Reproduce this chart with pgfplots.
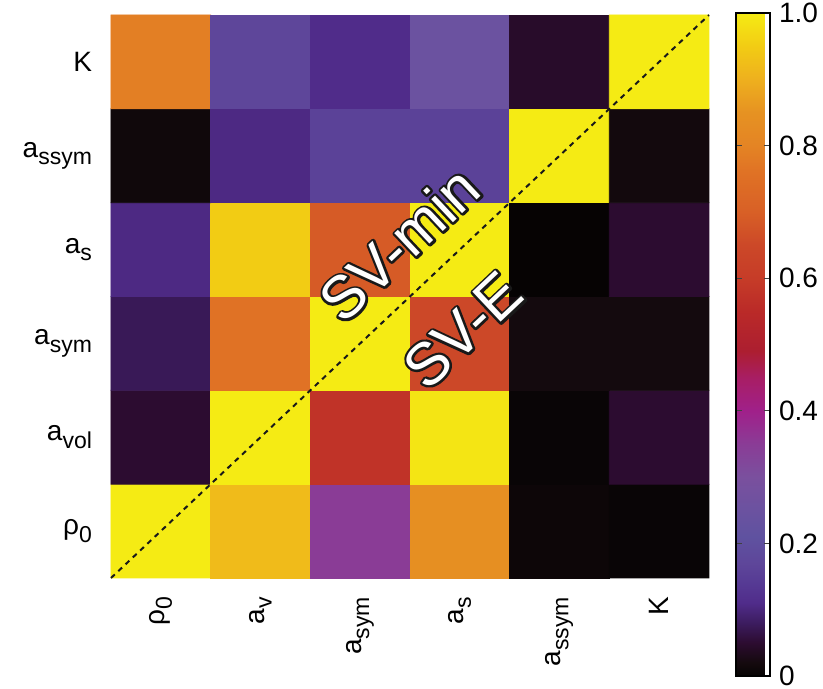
\documentclass[border=0pt]{standalone}
\usepackage{fontspec}
\setmainfont{Liberation Sans}
\usepackage{pgfplots}
\usepackage{pgfplotstable}
\pgfplotsset{compat=1.18}
\pgfplotsset{colormap={sv}{
  rgb255(0pt)=(6,3,3)
  rgb255(2pt)=(20,10,14)
  rgb255(5pt)=(44,12,48)
  rgb255(8pt)=(60,28,95)
  rgb255(11pt)=(80,44,138)
  rgb255(14pt)=(86,58,148)
  rgb255(17pt)=(94,70,154)
  rgb255(21pt)=(95,82,160)
  rgb255(25pt)=(107,82,160)
  rgb255(30pt)=(122,80,158)
  rgb255(35pt)=(138,60,150)
  rgb255(40pt)=(160,32,138)
  rgb255(45pt)=(168,30,100)
  rgb255(49pt)=(172,30,48)
  rgb255(55pt)=(186,42,40)
  rgb255(60pt)=(198,60,40)
  rgb255(65pt)=(204,72,40)
  rgb255(70pt)=(216,96,38)
  rgb255(76pt)=(224,114,37)
  rgb255(80pt)=(228,132,36)
  rgb255(85pt)=(230,146,34)
  rgb255(90pt)=(238,176,30)
  rgb255(95pt)=(242,204,20)
  rgb255(100pt)=(245,235,20)
}}
\newcommand{\sub}[1]{\raisebox{-0.5ex}{\fontsize{11.5}{12}\selectfont #1}}
\newcommand{\stroked}[1]{\special{pdf:literal direct 1 Tr 2.4 w 1 j 0.1 0.1 0.1 RG}#1\special{pdf:literal direct 0 Tr}}
\pgfplotstableread{
x y c
0 0 1.00
1 0 0.92
2 0 0.35
3 0 0.84
4 0 0.01
5 0 0.005
0 1 0.05
1 1 1.00
2 1 0.575
3 1 0.99
4 1 0.005
5 1 0.05
0 2 0.075
1 2 0.76
2 2 1.00
3 2 0.65
4 2 0.02
5 2 0.02
0 3 0.105
1 3 0.95
2 3 0.69
3 3 1.00
4 3 0.00
5 3 0.05
0 4 0.015
1 4 0.105
2 4 0.16
3 4 0.16
4 4 1.00
5 4 0.018
0 5 0.79
1 5 0.17
2 5 0.11
3 5 0.25
4 5 0.045
5 5 1.00
}\corr
\begin{document}
\begin{tikzpicture}
\begin{axis}[
  at={(0,0)}, anchor=south west,
  scale only axis, width=299pt, height=281.5pt,
  xmin=-0.5, xmax=5.5, ymin=-0.5, ymax=5.5,
  enlargelimits=false, clip=false,
  axis line style={draw=none},
  major tick length=0pt,
  xtick={0,1,2,3,4,5}, ytick={0,1,2,3,4,5},
  xticklabels={{ρ\sub{0}},{a\sub{v}},{a\sub{sym}},{a\sub{s}},{a\sub{ssym}},{K}},
  yticklabels={{ρ\sub{0}},{a\sub{vol}},{a\sub{sym}},{a\sub{s}},{a\sub{ssym}},{K}},
  tick label style={font=\fontsize{14}{16}\selectfont, text=black},
  x tick label style={rotate=90, anchor=east, xshift=-6pt},
  y tick label style={anchor=east, xshift=-6pt},
  colormap name=sv,
  point meta min=0, point meta max=1,
  colorbar,
  colorbar shift/.style={},
  colorbar style={
    at={(parent axis.south east)}, anchor=south west,
    xshift=13.5pt, yshift=-49pt,
    width=17pt, height=331.5pt,
    axis line style={draw=black, line width=0.6pt},
    ytick={0,0.2,0.4,0.6,0.8,1},
    yticklabels={0,0.2,0.4,0.6,0.8,1.0},
    yticklabel pos=right,
    ytick pos=both,
    tick align=inside,
    major tick length=3pt,
    tick style={draw=black!75, line width=0.6pt},
    yticklabel style={font=\fontsize{14}{16}\selectfont, text=black, xshift=1pt},
  },
]
\addplot[matrix plot*, mesh/cols=6, point meta=explicit, draw=none]
  table[x=x, y=y, meta=c] {\corr};
\addplot[black!90, line width=1pt, dash pattern=on 2.6pt off 2.4pt] coordinates {(-0.5,-0.5) (5.5,5.5)};
\coordinate (svmin) at (axis cs:2.39,3.06);
\coordinate (sve) at (axis cs:3.03,2.14);
\end{axis}
\node[rotate=43.3, text=black, font=\fontsize{30}{32}\selectfont, inner sep=0pt] at (svmin) {\stroked{SV-min}};
\node[rotate=43.3, text=black, font=\fontsize{30}{32}\selectfont, inner sep=0pt] at (sve) {\stroked{SV-E}};
\node[rotate=43.3, text=white, font=\fontsize{30}{32}\selectfont, inner sep=0pt] at (svmin) {SV-min};
\node[rotate=43.3, text=white, font=\fontsize{30}{32}\selectfont, inner sep=0pt] at (sve) {SV-E};
\pgfresetboundingbox
\path (-55.5pt,-55.5pt) rectangle (356pt,289pt);
\end{tikzpicture}
\end{document}
